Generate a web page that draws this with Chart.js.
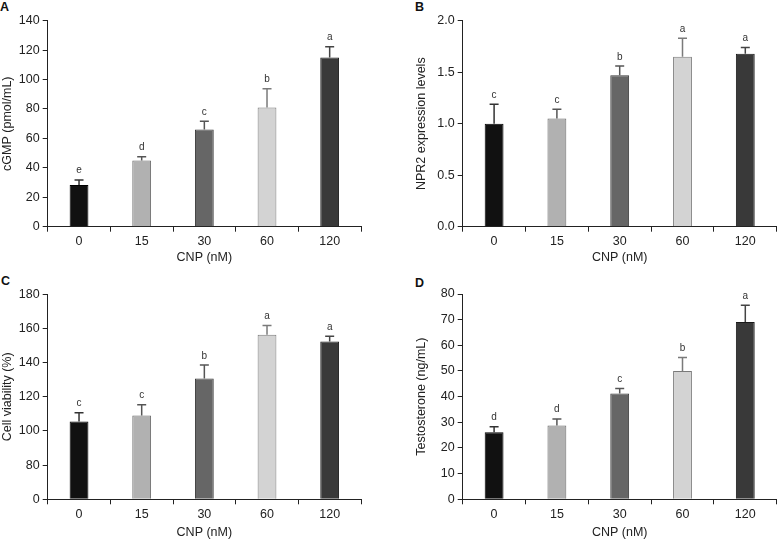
<!DOCTYPE html>
<html>
<head>
<meta charset="utf-8">
<script src="https://cdn.jsdelivr.net/npm/chart.js@4/dist/chart.umd.min.js"></script>
<style>
  html, body { margin: 0; padding: 0; background: #fff; }
  body { width: 779px; height: 540px; position: relative; overflow: hidden; font-family: "Liberation Sans", Arial, sans-serif; }
  .panel { position: absolute; }
  .letter { position: absolute; font: bold 12.5px "Liberation Sans", Arial, sans-serif; color: #111; line-height: 1; }
</style>
</head>
<body>
<div class="letter" style="left:0px;top:1px;">A</div>
<div class="letter" style="left:415px;top:1px;">B</div>
<div class="letter" style="left:1px;top:275px;">C</div>
<div class="letter" style="left:415px;top:277px;">D</div>
<canvas id="cA" class="panel" width="390" height="270" style="left:0;top:0;"></canvas>
<canvas id="cB" class="panel" width="389" height="270" style="left:390px;top:0;"></canvas>
<canvas id="cC" class="panel" width="390" height="270" style="left:0;top:270px;"></canvas>
<canvas id="cD" class="panel" width="389" height="270" style="left:390px;top:270px;"></canvas>
<script>
// ---- data ----
const categories = ['0', '15', '30', '60', '120'];
const xTitle = 'CNP (nM)';

const cgmpMean = [28.3, 45, 66, 81, 115];
const cgmpErr = [3.5, 2.5, 5.6, 12.8, 7.3];
const cgmpLetters = ['e', 'd', 'c', 'b', 'a'];

const npr2Mean = [1.0, 1.05, 1.47, 1.65, 1.68];
const npr2Err = [0.19, 0.09, 0.09, 0.18, 0.06];
const npr2Letters = ['c', 'c', 'b', 'a', 'a'];

const viabilityMean = [105.5, 109, 130.7, 156.3, 152.4];
const viabilityErr = [5.2, 6.4, 7.9, 5.4, 3.1];
const viabilityLetters = ['c', 'c', 'b', 'a', 'a'];
const viabilityTicks = [0, 80, 100, 120, 140, 160, 180];

const testoMean = [26.1, 28.8, 41.2, 50, 69.1];
const testoErr = [2.2, 2.5, 2.0, 5.3, 6.5];
const testoLetters = ['d', 'd', 'c', 'b', 'a'];

// ---- styles ----
const barColors = ['#111111', '#b1b1b1', '#666666', '#d3d3d3', '#393939'];
const barBorders = ['#000000', '#6a6a6a', '#3a3a3a', '#7a7a7a', '#1a1a1a'];
const errColors = ['#333333', '#555555', '#555555', '#7a7a7a', '#444444'];
const FONT = '"Liberation Sans", Arial, sans-serif';
const AXIS = '#222222';

function makeErrorPlugin(mean, err, letters, map) {
  return {
    id: 'errbars',
    afterDatasetsDraw(chart) {
      const meta = chart.getDatasetMeta(0);
      const ys = chart.scales.y;
      const ctx = chart.ctx;
      ctx.save();
      meta.data.forEach((bar, i) => {
        const x = bar.x;
        const yTop = ys.getPixelForValue(map(mean[i] + err[i]));
        const yBase = bar.y;
        ctx.strokeStyle = errColors[i];
        ctx.lineWidth = 1.5;
        ctx.beginPath();
        ctx.moveTo(x, yBase);
        ctx.lineTo(x, yTop);
        ctx.moveTo(x - 4.5, yTop);
        ctx.lineTo(x + 4.5, yTop);
        ctx.stroke();
        ctx.fillStyle = '#333';
        ctx.font = '10px ' + FONT;
        ctx.textAlign = 'center';
        ctx.textBaseline = 'alphabetic';
        ctx.fillText(letters[i], x, yTop - 6.5);
      });
      ctx.restore();
    }
  };
}

function makeChart(id, cfg) {
  const map = cfg.map || (v => v);
  return new Chart(document.getElementById(id), {
    type: 'bar',
    data: {
      labels: categories,
      datasets: [{
        data: cfg.mean.map(map),
        backgroundColor: barColors,
        borderColor: barBorders,
        borderWidth: 1,
        barPercentage: 0.3,
        categoryPercentage: 1.0
      }]
    },
    options: {
      responsive: false,
      animation: false,
      devicePixelRatio: 1,
      layout: { padding: { top: cfg.top, right: cfg.right, left: 0, bottom: 0 } },
      plugins: {
        legend: { display: false },
        tooltip: { enabled: false }
      },
      scales: {
        x: {
          offset: true,
          grid: { offset: true, drawOnChartArea: false, tickLength: 5, color: AXIS, lineWidth: 1 },
          border: { display: true, color: AXIS, width: 1 },
          ticks: { color: '#222', font: { family: FONT, size: 12.5 }, padding: cfg.xPad },
          title: { display: true, text: xTitle, color: '#222', font: { family: FONT, size: 12.5, lineHeight: 1.2 }, padding: { top: 0, bottom: cfg.titlePad } },
          afterFit(s) { s.height = cfg.xH; }
        },
        y: {
          min: cfg.min, max: cfg.max,
          grid: { drawOnChartArea: false, tickLength: 5, color: AXIS, lineWidth: 1 },
          border: { display: true, color: AXIS, width: 1 },
          ticks: { stepSize: cfg.step, color: '#222', font: { family: FONT, size: 12.5 }, padding: 3, callback: cfg.tickCb },
          title: { display: true, text: cfg.yTitle, color: '#222', font: { family: FONT, size: 12.5, lineHeight: 1.2 }, padding: { top: cfg.yTitlePad, bottom: 0 } },
          afterFit(s) { s.width = cfg.yW; }
        }
      }
    },
    plugins: [makeErrorPlugin(cfg.mean, cfg.err, cfg.letters, map)]
  });
}

makeChart('cA', {
  mean: cgmpMean, err: cgmpErr, letters: cgmpLetters,
  min: 0, max: 140, step: 20, yTitle: 'cGMP (pmol/mL)',
  top: 20.7, right: 29, yW: 47.7, xH: 43.3, xPad: 2, titlePad: 4.5, yTitlePad: 0,
  tickCb: v => String(v)
});
makeChart('cB', {
  mean: npr2Mean, err: npr2Err, letters: npr2Letters,
  min: 0, max: 2, step: 0.5, yTitle: 'NPR2 expression levels',
  top: 20.7, right: 2.3, yW: 72.7, xH: 43.3, xPad: 2, titlePad: 4.5, yTitlePad: 24.5,
  tickCb: v => v.toFixed(1)
});
// Panel C uses a broken axis: 0, then 80..180 at equal steps
const brokenMap = v => (v <= 0 ? 0 : v - 60);
makeChart('cC', {
  mean: viabilityMean, err: viabilityErr, letters: viabilityLetters, map: brokenMap,
  min: 0, max: 120, step: 20, yTitle: 'Cell viability (%)',
  top: 24.3, right: 29, yW: 47.7, xH: 40.7, xPad: 3, titlePad: 0, yTitlePad: 0,
  tickCb: (v, i) => String(viabilityTicks[i])
});
makeChart('cD', {
  mean: testoMean, err: testoErr, letters: testoLetters,
  min: 0, max: 80, step: 10, yTitle: 'Testosterone (ng/mL)',
  top: 24, right: 2.3, yW: 72.7, xH: 40.7, xPad: 3, titlePad: 0, yTitlePad: 24.5,
  tickCb: v => String(v)
});
</script>
</body>
</html>
